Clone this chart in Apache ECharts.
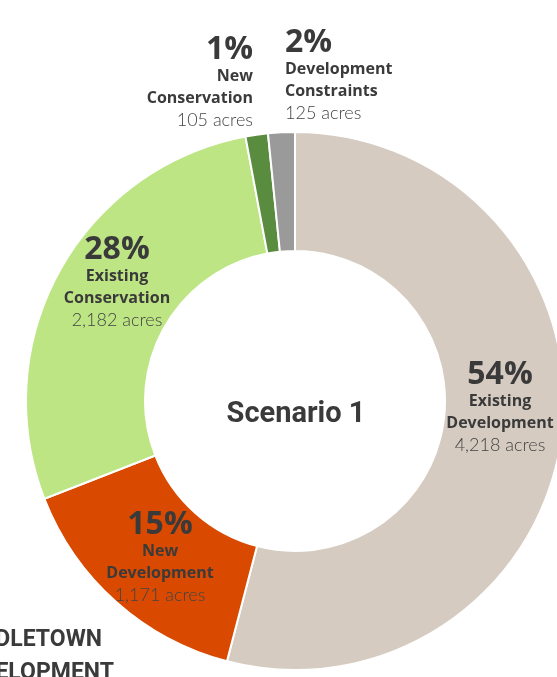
<!DOCTYPE html>
<html>
<head>
<meta charset="utf-8">
<script src="https://cdn.jsdelivr.net/npm/echarts@6/dist/echarts.min.js"></script>
<style>
    html, body { margin: 0; padding: 0; background: #fff; }
    #chart { width: 557px; height: 677px; }
</style>
</head>
<body>
<div id="chart"></div>
<script>
    // land use, scenario 1 (acres)
    var categories = ['Existing Development', 'New Development', 'Existing Conservation', 'New Conservation', 'Development Constraints'];
    var nameLines = [['Existing', 'Development'], ['New', 'Development'], ['Existing', 'Conservation'], ['New', 'Conservation'], ['Development', 'Constraints']];
    var acres = [4218, 1171, 2182, 105, 125];
    var colors = ['#d5cbc1', '#d94a00', '#bde584', '#5a8c40', '#9a9a9a'];

    // where each label block sits (x, y of anchor, alignment)
    var labelPos = [
        { x: 500, y: 360, align: 'center' },
        { x: 160, y: 510, align: 'center' },
        { x: 117, y: 235, align: 'center' },
        { x: 253, y: 35, align: 'right' },
        { x: 285, y: 28, align: 'left' }
    ];

    var myChart = echarts.init(document.getElementById('chart'));

    var pieData = [];
    for (var i = 0; i < categories.length; i++) {
        pieData.push({
            name: categories[i],
            value: acres[i],
            itemStyle: { color: colors[i] },
            label: { align: labelPos[i].align }
        });
    }

    var option = {
        backgroundColor: '#fff',
        animation: false,
        title: {
            text: 'Scenario 1',
            left: 291,
            top: 395,
            textAlign: 'center',
            textStyle: {
                fontFamily: 'Roboto',
                fontSize: 29,
                fontWeight: 'bold',
                color: '#3a3a3a'
            }
        },
        graphic: [
            {
                type: 'text',
                right: 455,
                top: 629,
                style: {
                    text: 'MIDDLETOWN',
                    font: 'bold 23px Roboto',
                    fill: '#3a3a3a',
                    textAlign: 'right'
                }
            },
            {
                type: 'text',
                right: 443,
                top: 662,
                style: {
                    text: 'DEVELOPMENT',
                    font: 'bold 23px Roboto',
                    fill: '#3a3a3a',
                    textAlign: 'right'
                }
            }
        ],
        series: [
            {
                type: 'pie',
                center: [295, 401],
                radius: [150, 269],
                startAngle: 90,
                clockwise: true,
                avoidLabelOverlap: false,
                itemStyle: {
                    borderColor: '#fff',
                    borderWidth: 2
                },
                label: {
                    show: true,
                    position: 'inside',
                    formatter: function (params) {
                        var lines = nameLines[params.dataIndex];
                        return '{pct|' + Math.round(params.percent) + '%}\n' +
                            '{name|' + lines[0] + '}\n' +
                            '{name|' + lines[1] + '}\n' +
                            '{ac|' + params.value.toLocaleString('en-US') + ' acres}';
                    },
                    rich: {
                        pct: {
                            fontFamily: 'Open Sans',
                            fontSize: 32,
                            fontWeight: 'bold',
                            color: '#3a3a3a',
                            lineHeight: 30
                        },
                        name: {
                            fontFamily: 'Open Sans',
                            fontSize: 16,
                            fontWeight: 'bold',
                            color: '#3a3a3a',
                            lineHeight: 22
                        },
                        ac: {
                            fontFamily: 'Lato',
                            fontSize: 18,
                            fontWeight: 300,
                            color: '#444',
                            lineHeight: 22
                        }
                    }
                },
                labelLine: { show: false },
                labelLayout: function (params) {
                    var p = labelPos[params.dataIndex];
                    return {
                        x: p.x,
                        y: p.y,
                        align: p.align,
                        verticalAlign: 'top'
                    };
                },
                emphasis: { disabled: true },
                data: pieData
            }
        ]
    };

    myChart.setOption(option);
</script>
</body>
</html>
